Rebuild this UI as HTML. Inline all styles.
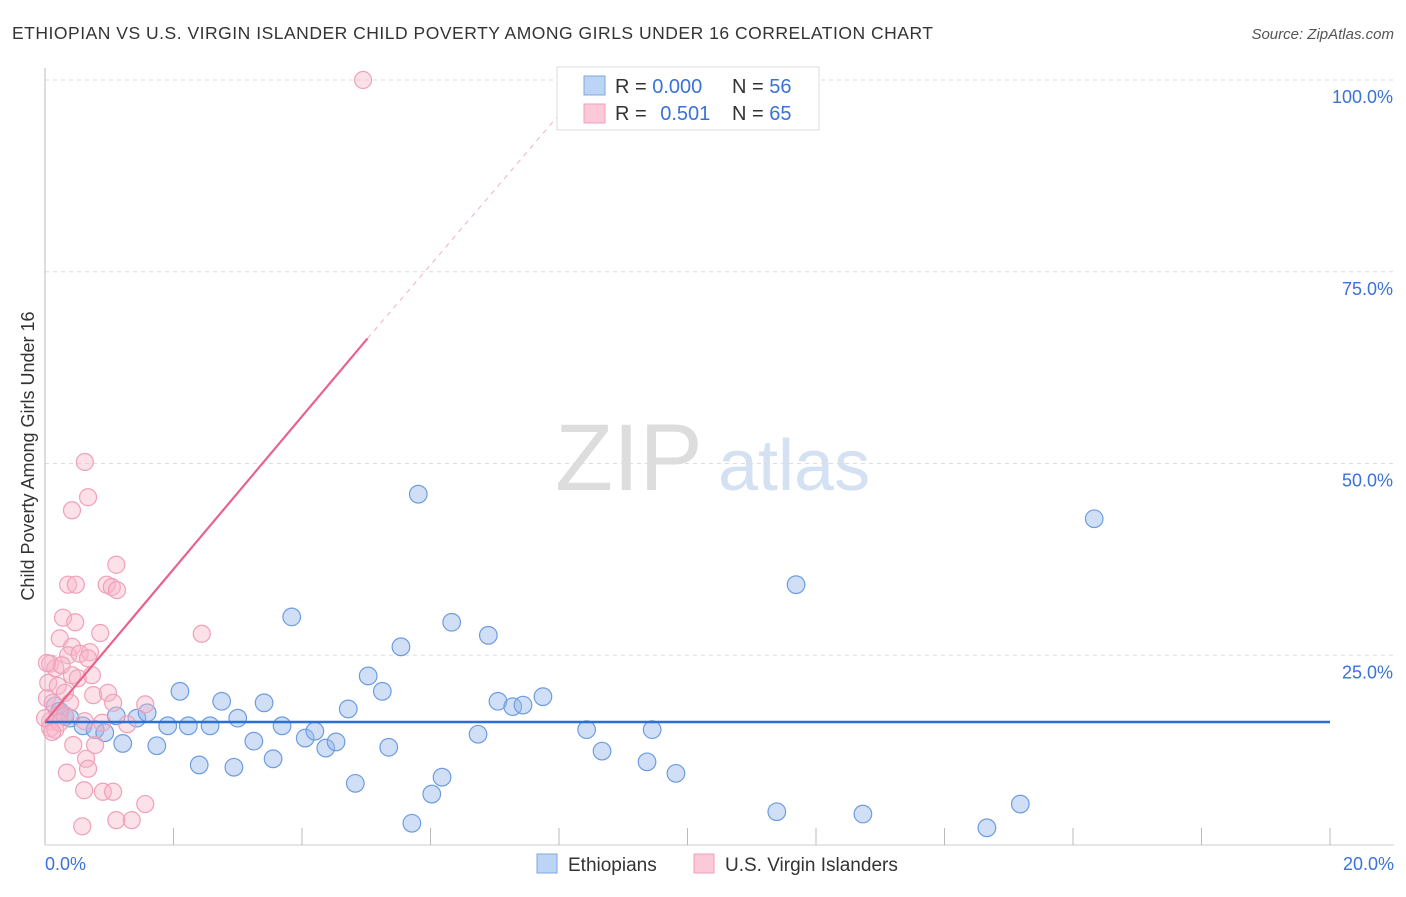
<!DOCTYPE html>
<html><head><meta charset="utf-8"><style>
body{margin:0;background:#fff;font-family:"Liberation Sans",sans-serif;}
svg text{font-family:"Liberation Sans",sans-serif;}
</style></head><body>
<svg id="chart" width="1406" height="892">
<text x="12" y="39" font-size="17.5" fill="#333" textLength="921" lengthAdjust="spacing">ETHIOPIAN VS U.S. VIRGIN ISLANDER CHILD POVERTY AMONG GIRLS UNDER 16 CORRELATION CHART</text>
<text x="1394" y="39" font-size="15" fill="#555" font-style="italic" text-anchor="end">Source: ZipAtlas.com</text>
<text x="34" y="456" font-size="18" fill="#333" text-anchor="middle" transform="rotate(-90 34 456)">Child Poverty Among Girls Under 16</text>
<text x="555" y="490" font-size="95" fill="#ddd" font-family="Liberation Serif">ZIP</text>
<text x="718" y="490" font-size="72" fill="#d3e1f3">atlas</text>
<g id="grid"></g><g id="pts"></g><g id="lines"></g>
<rect x="557" y="67" width="262" height="63" fill="#fff" stroke="#ddd"/>
<rect x="584" y="76" width="21" height="19" fill="#bcd4f5" stroke="#7fa8e0"/>
<rect x="584" y="104" width="21" height="19" fill="#fbc9d8" stroke="#f0a0b8"/>
<text x="615" y="93" font-size="20" fill="#333">R = <tspan fill="#3a72d8">0.000</tspan></text>
<text x="732" y="93" font-size="20" fill="#333">N = <tspan fill="#3a72d8">56</tspan></text>
<text x="615" y="120" font-size="20" fill="#333">R = <tspan fill="#3a72d8" dx="8">0.501</tspan></text>
<text x="732" y="120" font-size="20" fill="#333">N = <tspan fill="#3a72d8">65</tspan></text>
<rect x="537" y="854" width="20" height="19" fill="#bcd4f5" stroke="#7fa8e0"/>
<text x="568" y="871" font-size="19" fill="#333">Ethiopians</text>
<rect x="694" y="854" width="20" height="19" fill="#fbc9d8" stroke="#f0a0b8"/>
<text x="725" y="871" font-size="19" fill="#333">U.S. Virgin Islanders</text>
<text x="45" y="870" font-size="18" fill="#3a72d8">0.0%</text>
<text x="1394" y="870" font-size="18" fill="#3a72d8" text-anchor="end">20.0%</text>
</svg>
<script>
const yTicks=[100,75,50,25];
const yTickLabels=["100.0%","75.0%","50.0%","25.0%"];
const ethX=[0.16,0.23,0.31,0.39,0.59,0.78,0.93,1.11,1.21,1.43,1.59,1.74,1.91,2.1,2.23,2.4,2.57,2.75,2.94,3.0,3.25,3.41,3.55,3.69,3.84,4.05,4.2,4.37,4.53,4.72,4.83,5.03,5.25,5.35,5.54,5.71,5.81,6.02,6.18,6.33,6.74,6.9,7.05,7.28,7.44,7.75,8.43,8.67,9.37,9.45,9.82,11.39,11.69,12.73,14.66,15.18,16.33];
const ethY=[18.4,17.7,17.0,16.8,15.8,15.3,14.9,17.1,13.5,16.8,17.5,13.2,15.8,20.3,15.8,10.7,15.8,19.0,10.4,16.8,13.8,18.8,11.5,15.8,30.0,14.2,15.1,12.9,13.7,18.0,8.3,22.3,20.3,13.0,26.1,3.1,46.0,6.9,9.1,29.3,14.7,27.6,19.0,18.3,18.5,19.6,15.3,12.5,11.1,15.3,9.6,4.6,34.2,4.3,2.5,5.6,42.8];
const vinX=[4.95,0.62,0.67,0.42,1.11,0.36,0.48,0.96,1.04,1.12,0.28,0.47,0.86,2.44,0.23,0.42,0.36,0.54,0.7,0.08,0.16,0.26,0.42,0.67,0.05,0.2,0.51,0.73,0.03,0.12,0.31,0.75,0.98,0.39,1.06,1.56,0.08,0.2,0.31,0.62,0.89,1.28,0.08,0.16,0.44,0.78,0.64,0.67,0.34,0.61,0.9,1.06,0.58,1.11,1.35,1.56,0.23,0.0,0.03,0.11];
const vinY=[100,50.2,45.6,43.9,36.8,34.2,34.2,34.2,33.9,33.5,29.9,29.3,27.9,27.8,27.2,26.1,25.0,25.2,25.4,23.9,23.3,23.7,22.4,24.6,21.4,21.0,22.0,22.4,19.4,18.8,20.1,19.8,20.1,18.8,18.8,18.6,16.4,17.2,17.2,16.4,16.2,16.0,15.5,15.3,13.3,13.3,11.5,10.2,9.7,7.4,7.2,7.2,2.7,3.5,3.5,5.6,16.2,16.8,24.0,15.0];
const ethTrend=[16.3,16.3];
const vinTrendStart=[0,16.3],vinTrendEnd=[5.02,66.3],vinDashEnd=[8.35,98.9];
const X=v=>45+v/20*1285, Y=v=>847-v/100*767;
const ns="http://www.w3.org/2000/svg";
function mk(t,a,p){const e=document.createElementNS(ns,t);for(const k in a)e.setAttribute(k,a[k]);document.getElementById(p).appendChild(e);return e;}
yTicks.forEach((t,i)=>{
 const l=mk('line',{x1:45,x2:1394,y1:Y(t),y2:Y(t),stroke:'#ddd','stroke-dasharray':'4,4'},'grid');
 
 
 const tx=mk('text',{x:1393,y:Y(t)+23,'font-size':18,fill:'#3a72d8','text-anchor':'end'},'grid');
 tx.textContent=yTickLabels[i];
 
 
});
const ax=mk('line',{x1:45,x2:45,y1:68,y2:845,stroke:'#bbb'},'grid');


const bx=mk('line',{x1:45,x2:1394,y1:845,y2:845,stroke:'#ccc'},'grid');


for(let i=1;i<=10;i++){const t=mk('line',{x1:X(i*2),x2:X(i*2),y1:828,y2:845,stroke:'#bbb'},'grid');
 
 }
ethX.forEach((v,i)=>{const c=mk('circle',{cx:X(v),cy:Y(ethY[i]),r:8.8,fill:'rgba(150,185,235,0.45)',stroke:'#6d9de0','stroke-width':1.2},'pts');
 
 });
vinX.forEach((v,i)=>{const c=mk('circle',{cx:X(v),cy:Y(vinY[i]),r:8.5,fill:'rgba(248,180,200,0.4)',stroke:'#f0a0b8','stroke-width':1.2},'pts');
 
 });
const el=mk('line',{x1:X(0),x2:X(20),y1:Y(ethTrend[0]),y2:Y(ethTrend[1]),stroke:'#2a6fd6','stroke-width':2.5},'lines');


const vl=mk('line',{x1:X(vinTrendStart[0]),y1:Y(vinTrendStart[1]),x2:X(vinTrendEnd[0]),y2:Y(vinTrendEnd[1]),stroke:'#e8638c','stroke-width':2.2},'lines');


const vd=mk('line',{x1:X(vinTrendEnd[0]),y1:Y(vinTrendEnd[1]),x2:X(vinDashEnd[0]),y2:Y(vinDashEnd[1]),stroke:'#f0b0c4','stroke-width':1,'stroke-dasharray':'5,5'},'lines');


</script>
</body></html>
